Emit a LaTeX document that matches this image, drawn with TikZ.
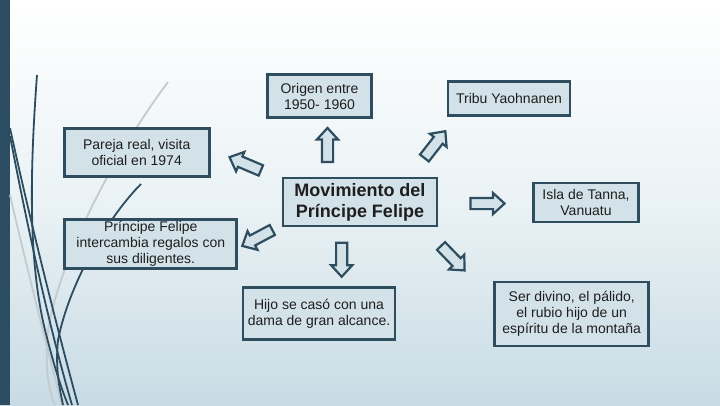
\documentclass[tikz,border=0pt]{standalone}
\usepackage{fontspec}
\setmainfont{Liberation Sans}
\usetikzlibrary{shapes.arrows}
\definecolor{edge}{HTML}{2E4D5F}
\definecolor{barcol}{HTML}{2C4D61}
\definecolor{boxfill}{HTML}{D3E2E9}
\definecolor{bgmid}{HTML}{EAF2F5}
\definecolor{bgbot}{HTML}{C8DBE4}
\definecolor{lightline}{HTML}{C3CBCF}
\definecolor{txt}{HTML}{1E1E1E}
\begin{document}
\begin{tikzpicture}[x=1pt,y=-1pt,
  box/.style={draw=edge, fill=boxfill, line width=2.8pt, align=center, text=txt,
    font=\fontsize{14}{16}\selectfont, inner sep=2pt},
  mainbox/.style={box, font=\fontsize{18}{21}\selectfont\bfseries},
  blockarrow/.style={single arrow, draw=edge, fill=boxfill, line width=2.2pt,
    minimum height=34pt, single arrow head extend=5pt, single arrow tip angle=85,
    inner xsep=0pt, inner ysep=4.5pt, text height=0pt, text depth=0pt},
  deco/.style={draw=barcol, line width=1.8pt},
  decol/.style={draw=lightline, line width=1.8pt}]
\useasboundingbox (0,0) rectangle (720,405);
\shade[top color=white, bottom color=bgbot, middle color=bgmid] (0,0) rectangle (720,405);
\fill[barcol] (0,0) rectangle (10,405);
% decorative lines
\draw[decol] (168,82) .. controls (110,160) and (60,260) .. (48,330) .. controls (44,370) and (50,395) .. (55,405);
\draw[decol] (10,195) .. controls (25,260) and (45,340) .. (62,405);
\draw[deco] (37,75) .. controls (30,170) and (28,260) .. (45,330) .. controls (55,370) and (62,390) .. (68,405);
\draw[deco] (10,128) .. controls (30,220) and (55,320) .. (78,405);
\draw[deco] (10,136) .. controls (28,230) and (50,330) .. (72,405);
\draw[deco] (141,184) .. controls (110,215) and (70,280) .. (58,340) .. controls (55,370) and (60,390) .. (63,405);
% boxes
\node[box, minimum width=104pt, minimum height=43pt] (origen) at (319.5,96) {Origen entre\\1950- 1960};
\node[box, minimum width=122pt, minimum height=34pt] (tribu) at (509,98.3) {Tribu Yaohnanen};
\node[box, minimum width=145pt, minimum height=48pt] (pareja) at (136.7,152.2) {Pareja real, visita\\oficial en 1974};
\node[mainbox, minimum width=154pt, minimum height=48pt] (mov) at (360,202) {Movimiento del\\Príncipe Felipe};
\node[box, minimum width=105pt, minimum height=39pt] (isla) at (586,202.5) {Isla de Tanna,\\Vanuatu};
\node[box, minimum width=172pt, minimum height=49pt] (principe) at (150.8,244) {Príncipe Felipe\\intercambia regalos con\\sus diligentes.};
\node[box, minimum width=152pt, minimum height=52pt] (hijo) at (319,313.5) {Hijo se casó con una\\dama de gran alcance.};
\node[box, minimum width=154pt, minimum height=64pt] (ser) at (571.7,314) {Ser divino, el pálido,\\el rubio hijo de un\\espíritu de la montaña};
% block arrows
\node[blockarrow, rotate=90] (aup) at (327.5,148) {};
\node[blockarrow, rotate=157] (aul) at (248,165) {};
\node[blockarrow, rotate=52] (aur) at (433,147) {};
\node[blockarrow, rotate=0] (ar) at (484.5,203.5) {};
\node[blockarrow, rotate=208] (adl) at (260,236.5) {};
\node[blockarrow, rotate=270] (ad) at (341.7,256.7) {};
\node[blockarrow, rotate=-46] (adr) at (450.7,256) {};
\end{tikzpicture}
\end{document}
